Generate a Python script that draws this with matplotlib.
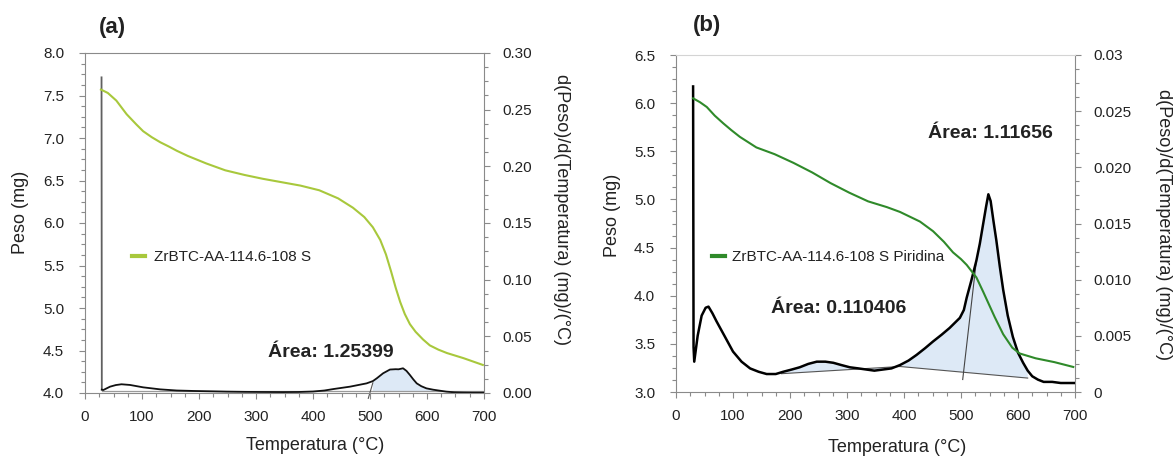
import numpy as np
import matplotlib
matplotlib.use("Agg")
import matplotlib.pyplot as plt
from matplotlib.ticker import MultipleLocator, FixedLocator, FixedFormatter
from matplotlib.lines import Line2D

plt.rcParams['font.family'] = ['Liberation Sans', 'DejaVu Sans']

# ---------------- data: panel (a) ----------------
tga_a_T = [28, 40, 55, 73, 90, 102, 117, 132, 147, 161, 180, 213, 246, 280, 312, 345, 378, 411,
           444, 470, 490, 505, 518, 528, 537, 545, 553, 561, 570, 580, 593, 605, 620, 635, 664, 698]
tga_a_w = [7.57, 7.53, 7.44, 7.28, 7.16, 7.08, 7.01, 6.95, 6.90, 6.85, 6.79, 6.70, 6.62, 6.565, 6.52,
           6.48, 6.44, 6.385, 6.29, 6.18, 6.07, 5.95, 5.80, 5.63, 5.43, 5.24, 5.07, 4.93, 4.81, 4.72,
           4.63, 4.56, 4.51, 4.47, 4.41, 4.33]

dtg_a_T = [29, 29.5, 32, 44, 54, 64, 79, 102, 132, 161, 190, 220, 249, 280, 307, 348, 375, 400, 420,
           436, 465, 494, 505, 512, 523, 535, 545, 550, 558, 564, 570, 576, 582, 590, 599, 611, 623,
           634, 648, 664, 680, 700]
dtg_a_d = [0.2785, 0.0030, 0.0026, 0.0056, 0.0070, 0.0077, 0.0071, 0.0050, 0.0032, 0.0022, 0.0018,
           0.0015, 0.0012, 0.0010, 0.0009, 0.0008, 0.0009, 0.0013, 0.0022, 0.0035, 0.0056, 0.0085,
           0.0105, 0.0130, 0.0174, 0.0207, 0.0210, 0.0209, 0.0218, 0.0195, 0.0159, 0.0120, 0.0085,
           0.0060, 0.0041, 0.0029, 0.0020, 0.0012, 0.0006, 0.0004, 0.0003, 0.0003]

base_a_T = [30, 700]
base_a_d = [0.0018, 0.0018]
split_a_T = [497, 505]
split_a_d = [-0.0047, 0.0090]
peak_a_range = [500, 628]
label_a = "ZrBTC-AA-114.6-108 S"
area_a_text = "Área: 1.25399"

# ---------------- data: panel (b) ----------------
tga_b_T = [30, 42, 54, 68, 83, 97, 112, 141, 173, 206, 239, 271, 304, 337, 370, 393, 428, 451, 470,
           486, 500, 510, 527, 539, 559, 574, 590, 603, 631, 664, 697]
tga_b_w = [6.05, 6.01, 5.96, 5.87, 5.79, 5.72, 5.65, 5.54, 5.47, 5.38, 5.28, 5.17, 5.07, 4.98, 4.92,
           4.87, 4.77, 4.67, 4.56, 4.45, 4.38, 4.32, 4.19, 4.04, 3.78, 3.60, 3.46, 3.40, 3.35, 3.31,
           3.26]

dtg_b_T = [30, 30.8, 32, 38, 45, 52, 57, 64, 71, 85, 100, 115, 130, 145, 159, 175, 188, 203, 217,
           232, 247, 262, 276, 290, 305, 320, 334, 348, 363, 378, 393, 408, 422, 437, 451, 466, 480,
           490, 498, 505, 510, 518, 527, 533, 539, 544, 548, 552, 557, 562, 568, 574, 582, 591, 600,
           609, 617, 625, 635, 645, 660, 675, 690, 698]
dtg_b_d = [0.0272, 0.0040, 0.0027, 0.0050, 0.0068, 0.0075, 0.0076, 0.0070, 0.0063, 0.0050, 0.0036,
           0.0027, 0.0021, 0.0018, 0.0016, 0.0016, 0.0018, 0.0020, 0.0022, 0.0025, 0.0027, 0.0027,
           0.0026, 0.0024, 0.0022, 0.0021, 0.0020, 0.0019, 0.0020, 0.0021, 0.0024, 0.0028, 0.0033,
           0.0039, 0.0045, 0.0051, 0.0057, 0.0062, 0.0066, 0.0073, 0.0084, 0.0099, 0.0117, 0.0132,
           0.0150, 0.0165, 0.0176, 0.0170, 0.0152, 0.0135, 0.0112, 0.0091, 0.0068, 0.0049, 0.0035,
           0.0026, 0.0019, 0.0014, 0.0011, 0.0009, 0.0009, 0.0008, 0.0008, 0.0008]

base_b_T = [185, 393, 617]
base_b_d = [0.00163, 0.00227, 0.00124]
split_b_T = [503, 527]
split_b_d = [0.00111, 0.0117]
label_b = "ZrBTC-AA-114.6-108 S Piridina"
area_b1_text = "Área: 0.110406"
area_b2_text = "Área: 1.11656"

x_ticks = [0, 100, 200, 300, 400, 500, 600, 700]
right_b_ticks = [0, 0.005, 0.010, 0.015, 0.020, 0.025, 0.03]
right_b_labels = ["0", "0.005", "0.010", "0.015", "0.020", "0.025", "0.03"]

# ---------------- styling ----------------
GREEN_A = "#a8c83c"
GREEN_B = "#2f8a2a"
FILL = "#dde9f6"
SPINE = "#8a8a8a"
TXT = "#222222"

W, H = 1173, 458
fig = plt.figure(figsize=(W / 100, H / 100), dpi=100)


def style_axes(ax, ax2, top_color):
    for s in ["left", "bottom"]:
        ax.spines[s].set_color(SPINE)
    ax.spines["top"].set_color(top_color)
    ax.spines["right"].set_visible(False)
    ax2.spines["right"].set_color(SPINE)
    for s in ["left", "bottom", "top"]:
        ax2.spines[s].set_visible(False)
    ax.tick_params(axis="both", which="both", direction="out", color=SPINE, width=0.8,
                   labelcolor=TXT, labelsize=11)
    ax.tick_params(axis="both", which="major", length=4)
    ax.tick_params(axis="both", which="minor", length=3)
    ax.tick_params(axis="y", pad=11)
    ax.tick_params(axis="x", pad=8)
    ax2.tick_params(axis="y", which="both", direction="out", color=SPINE, width=0.8,
                    labelcolor=TXT, labelsize=11, pad=9)
    ax2.tick_params(axis="y", which="major", length=4)
    ax2.tick_params(axis="y", which="minor", length=3)
    ax.set_xlim(0, 700)
    ax.xaxis.set_major_locator(FixedLocator(x_ticks))
    ax.xaxis.set_minor_locator(MultipleLocator(25))


# ================= panel (a) =================
axA = fig.add_axes([85 / W, 1 - 393 / H, 399 / W, 340 / H])
axA2 = axA.twinx()
style_axes(axA, axA2, SPINE)
axA.set_ylim(4.0, 8.0)
axA.yaxis.set_major_locator(MultipleLocator(0.5))
axA.yaxis.set_minor_locator(MultipleLocator(0.125))
axA.yaxis.set_major_formatter(matplotlib.ticker.FormatStrFormatter("%.1f"))
axA2.set_ylim(0, 0.30)
axA2.yaxis.set_major_locator(MultipleLocator(0.05))
axA2.yaxis.set_minor_locator(MultipleLocator(0.0125))
axA2.yaxis.set_major_formatter(matplotlib.ticker.FormatStrFormatter("%.2f"))

Ta = np.array(dtg_a_T)
Da = np.array(dtg_a_d)
m = (Ta >= peak_a_range[0]) & (Ta <= peak_a_range[1])
polyT = np.concatenate([Ta[m], [base_a_T[1] if False else Ta[m][-1], Ta[m][0]]])
polyD = np.concatenate([Da[m], [base_a_d[0], base_a_d[0]]])
axA2.fill(polyT, polyD, color=FILL, lw=0, zorder=1)
axA2.plot(base_a_T, base_a_d, color="#9a9a9a", lw=0.9, zorder=2)
axA2.plot(split_a_T, split_a_d, color="#555555", lw=0.8, zorder=2, clip_on=False)
axA2.plot(dtg_a_T[:2], dtg_a_d[:2], color="#606060", lw=1.3, zorder=3)
axA2.plot(dtg_a_T[1:], dtg_a_d[1:], color="#111111", lw=1.3, zorder=3)
axA.plot(tga_a_T, tga_a_w, color=GREEN_A, lw=1.5, zorder=4)
axA.set_zorder(axA2.get_zorder() + 1)
axA.patch.set_visible(False)

axA.legend(handles=[Line2D([], [], color=GREEN_A, lw=3)], labels=[label_a], loc="center left",
           bbox_to_anchor=(0.117, 0.40), frameon=False, fontsize=11, handlelength=0.85,
           handletextpad=0.6, borderpad=0, borderaxespad=0, labelcolor=TXT)
axA2.text(431, 0.036, area_a_text, ha="center", va="center", fontsize=14, fontweight="bold",
          color=TXT)
axA.text(0.576, -0.153, "Temperatura (°C)", transform=axA.transAxes, ha="center", va="center",
         fontsize=13, color=TXT)
axA.text(-0.161, 0.532, "Peso (mg)", transform=axA.transAxes, ha="center", va="center",
         rotation=90, fontsize=13, color=TXT)
axA.text(1.193, 0.541, "d(Peso)/d(Temperatura) (mg)/(°C)", transform=axA.transAxes,
         ha="center", va="center", rotation=270, fontsize=13, color=TXT)
fig.text(112 / W, 1 - 28 / H, "(a)", ha="center", va="center", fontsize=16, fontweight="bold",
         color=TXT)

# ================= panel (b) =================
axB = fig.add_axes([676 / W, 1 - 392 / H, 399 / W, 337 / H])
axB2 = axB.twinx()
style_axes(axB, axB2, "#d4d4d4")
axB.set_ylim(3.0, 6.5)
axB.yaxis.set_major_locator(MultipleLocator(0.5))
axB.yaxis.set_minor_locator(MultipleLocator(0.125))
axB.yaxis.set_major_formatter(matplotlib.ticker.FormatStrFormatter("%.1f"))
axB2.set_ylim(0, 0.03)
axB2.yaxis.set_major_locator(FixedLocator(right_b_ticks))
axB2.yaxis.set_major_formatter(FixedFormatter(right_b_labels))
axB2.yaxis.set_minor_locator(MultipleLocator(0.00125))

Tb = np.array(dtg_b_T)
Db = np.array(dtg_b_d)
# hump region
m1 = (Tb >= base_b_T[0]) & (Tb <= base_b_T[1])
axB2.fill(np.concatenate([[base_b_T[0]], Tb[m1], [base_b_T[1]]]),
          np.concatenate([[base_b_d[0]], Db[m1], [base_b_d[1]]]), color=FILL, lw=0, zorder=1)
m2 = (Tb >= base_b_T[1]) & (Tb <= base_b_T[2])
axB2.fill(np.concatenate([[base_b_T[1]], Tb[m2], [base_b_T[2]]]),
          np.concatenate([[base_b_d[1]], Db[m2], [base_b_d[2]]]), color=FILL, lw=0, zorder=1)
axB2.plot(base_b_T, base_b_d, color="#555555", lw=0.8, zorder=2)
axB2.plot(split_b_T, split_b_d, color="#444444", lw=0.8, zorder=2)
axB2.plot(dtg_b_T, dtg_b_d, color="#000000", lw=1.8, zorder=3)
axB.plot(tga_b_T, tga_b_w, color=GREEN_B, lw=1.5, zorder=4)
axB.set_zorder(axB2.get_zorder() + 1)
axB.patch.set_visible(False)

axB.legend(handles=[Line2D([], [], color=GREEN_B, lw=3)], labels=[label_b], loc="center left",
           bbox_to_anchor=(0.089, 0.40), frameon=False, fontsize=11, handlelength=0.9,
           handletextpad=0.45, borderpad=0, borderaxespad=0, labelcolor=TXT)
axB2.text(286, 0.0074, area_b1_text, ha="center", va="center", fontsize=14, fontweight="bold",
          color=TXT)
axB2.text(551, 0.0230, area_b2_text, ha="center", va="center", fontsize=14, fontweight="bold",
          color=TXT)
axB.text(0.554, -0.166, "Temperatura (°C)", transform=axB.transAxes, ha="center", va="center",
         fontsize=13, color=TXT)
axB.text(-0.160, 0.525, "Peso (mg)", transform=axB.transAxes, ha="center", va="center",
         rotation=90, fontsize=13, color=TXT)
axB.text(1.223, 0.496, "d(Peso)/d(Temperatura) (mg)/(°C)", transform=axB.transAxes,
         ha="center", va="center", rotation=270, fontsize=13, color=TXT)
fig.text(707 / W, 1 - 25 / H, "(b)", ha="center", va="center", fontsize=16, fontweight="bold",
         color=TXT)

fig.savefig("out.png", dpi=100)
